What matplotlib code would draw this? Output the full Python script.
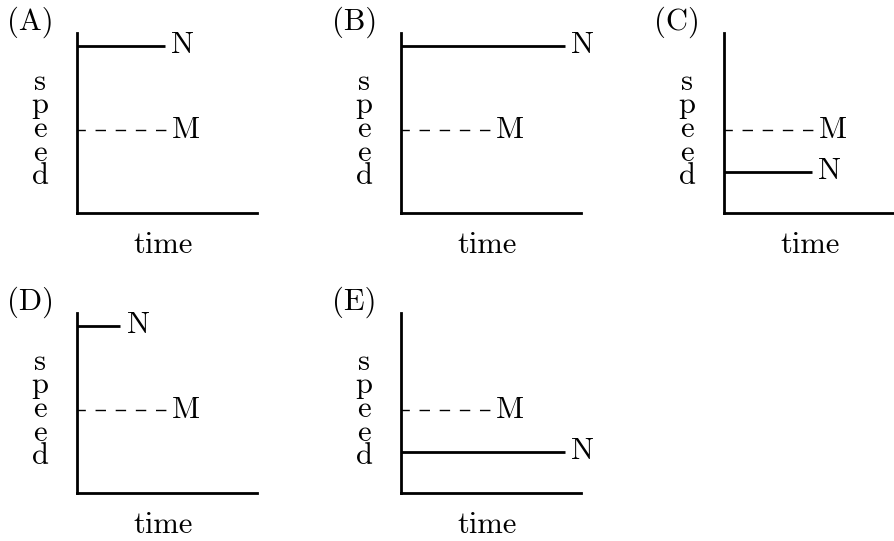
import matplotlib
matplotlib.use("Agg")
import matplotlib.pyplot as plt

plt.rcParams['font.family'] = 'cmr10'
plt.rcParams['axes.formatter.use_mathtext'] = True

panels = ["(A)", "(B)", "(C)", "(D)", "(E)"]
n_speed = [0.93, 0.93, 0.23, 0.93, 0.23]
n_end = [0.49, 0.91, 0.49, 0.24, 0.91]
m_speed = [0.46, 0.46, 0.46, 0.46, 0.46]
m_end = [0.50, 0.50, 0.50, 0.50, 0.50]

W, H = 895, 541
fig = plt.figure(figsize=(W / 100, H / 100), dpi=100)

lefts = [77, 401, 724, 77, 401]
bottoms = [213, 213, 213, 493, 493]
size = 180
fs = 22

for i, lab in enumerate(panels):
    ax = fig.add_axes([lefts[i] / W, (H - bottoms[i]) / H, size / W, size / H])
    ax.set_xlim(0, 1)
    ax.set_ylim(0, 1)
    for s in ['top', 'right']:
        ax.spines[s].set_visible(False)
    for s in ['left', 'bottom']:
        ax.spines[s].set_linewidth(2.0)
    ax.set_xticks([])
    ax.set_yticks([])
    ax.patch.set_alpha(0)
    ax.plot([0, n_end[i]], [n_speed[i], n_speed[i]], color='black', lw=2.0,
            solid_capstyle='butt', clip_on=False)
    ax.plot([0, m_end[i]], [m_speed[i], m_speed[i]], color='black', lw=1.0,
            linestyle=(1.5, (7.5, 7.0)), dash_capstyle='butt', clip_on=False)
    ax.text(n_end[i] + 0.035, n_speed[i], "N", fontsize=fs, ha='left', va='center')
    ax.text(m_end[i] + 0.025, m_speed[i], "M", fontsize=fs, ha='left', va='center')
    ax.text(-0.26, 1.06, lab, fontsize=fs, ha='center', va='center',
            transform=ax.transAxes)
    ax.text(0.48, -0.18, "time", fontsize=fs, ha='center', va='center',
            transform=ax.transAxes)
    ax.text(-0.205, 0.465, "s\np\ne\ne\nd", fontsize=fs, ha='center', va='center',
            linespacing=0.82, transform=ax.transAxes)

fig.savefig("out.png", dpi=100)
